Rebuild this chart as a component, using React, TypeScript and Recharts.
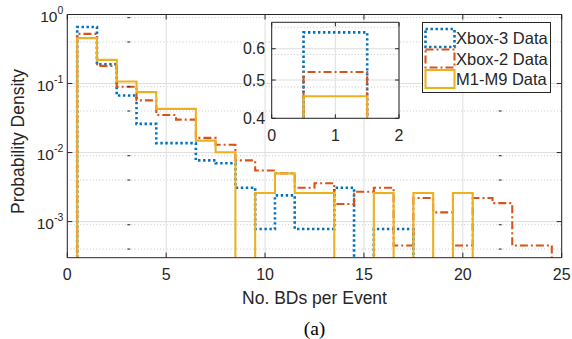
import React from 'react';
import { LineChart, Line, XAxis, YAxis, CartesianGrid } from 'recharts';

// ---- data (bins of width 1 centred on 1..24) ----
const binCenters = [1, 2, 3, 4, 5, 6, 7, 8, 9, 10, 11, 12, 13, 14, 15, 16, 17, 18, 19, 20, 21, 22, 23, 24];
const xbox3 = [0.66, 0.19, 0.067, 0.026, 0.0137, 0.0137, 0.0077, 0.007, 0.0031, 0.00078, 0.0024, 0.00078, 0.00078, 0.0031, 0, 0.00078, 0.00078, 0, 0, 0, 0, 0, 0, 0];
const xbox2 = [0.524, 0.18, 0.09, 0.057, 0.035, 0.03, 0.0163, 0.013, 0.0077, 0.0055, 0.005, 0.0031, 0.0036, 0.0018, 0.0027, 0.0031, 0.00045, 0.0022, 0.00136, 0.00045, 0.0022, 0.00185, 0.00045, 0.00045];
const m1m9 = [0.455, 0.22, 0.107, 0.075, 0.043, 0.043, 0.0149, 0.0101, 0, 0.0026, 0.005, 0.0026, 0.0026, 0, 0, 0.0026, 0, 0.0026, 0, 0.0026, 0, 0, 0, 0];

const seriesNames = ['Xbox-3 Data', 'Xbox-2 Data', 'M1-M9 Data'];
const seriesColors = ['#0072BD', '#D95319', '#EDB120'];
const seriesDash = ['2.4 2.6', '8 3 2 3', undefined];

const xTicks = [0, 5, 10, 15, 20, 25];
const yTicks = [0.001, 0.01, 0.1, 1];
const yTickExps = ['-3', '-2', '-1', '0'];
const insetXTicks = [0, 1, 2];
const insetYTicks = [0.4, 0.5, 0.6];
const insetYLabels = ['0.4', '0.5', '0.6'];

const xLabel = 'No. BDs per Event';
const yLabel = 'Probability Density';
const caption = '(a)';

// ---- derived ----
const FLOOR = 1e-7;
const fl = (v: number) => (v > 0 ? v : FLOOR);
const mainData = [
  { x: 0, a: FLOOR, b: FLOOR, c: FLOOR },
  ...binCenters.map((c, i) => ({ x: c - 0.5, a: fl(xbox3[i]), b: fl(xbox2[i]), c: fl(m1m9[i]) })),
  { x: 24.5, a: FLOOR, b: FLOOR, c: FLOOR },
  { x: 25, a: FLOOR, b: FLOOR, c: FLOOR },
];
const INSET_FLOOR = 0.1;
const insetData = [
  { x: 0, a: INSET_FLOOR, b: INSET_FLOOR, c: INSET_FLOOR },
  { x: binCenters[0] - 0.5, a: xbox3[0], b: xbox2[0], c: m1m9[0] },
  { x: binCenters[0] + 0.5, a: INSET_FLOOR, b: INSET_FLOOR, c: INSET_FLOOR },
  { x: 2, a: INSET_FLOOR, b: INSET_FLOOR, c: INSET_FLOOR },
];
const keys = ['a', 'b', 'c'];

const Y_MIN = 3e-4;
const minorY: number[] = [];
for (let e = -4; e <= -1; e++) {
  for (let k = 2; k <= 9; k++) {
    const v = k * Math.pow(10, e);
    if (v > Y_MIN && v < 1) minorY.push(v);
  }
}
const insetMinorY = [0.42, 0.44, 0.46, 0.48, 0.52, 0.54, 0.56, 0.58, 0.62, 0.64, 0.66, 0.68];

const FONT = '"Liberation Sans", Arial, Helvetica, sans-serif';
const AX = '#262626';
const TICK_FS = 16;

const EmptyTick = () => <g />;

function LogTick(props: any) {
  const { x, y, payload } = props;
  const i = yTicks.indexOf(payload.value);
  return (
    <text x={x} y={y + 7} textAnchor="end" fontSize={15.5} fill={AX} fontFamily={FONT}>
      <tspan>10</tspan>
      <tspan dy={-8} fontSize={10.5}>{yTickExps[i]}</tspan>
    </text>
  );
}

function InsetYTick(props: any) {
  const { x, y, payload } = props;
  const i = insetYTicks.indexOf(payload.value);
  return (
    <text x={x} y={y + 5.5} textAnchor="end" fontSize={TICK_FS} fill={AX} fontFamily={FONT}>
      {insetYLabels[i]}
    </text>
  );
}

const tickStyle = { fontSize: TICK_FS, fill: AX, fontFamily: FONT };

function renderLines() {
  return keys.map((k, i) => (
    <Line
      key={k}
      xAxisId="main"
      yAxisId="main"
      dataKey={k}
      type="stepAfter"
      stroke={seriesColors[i]}
      strokeWidth={i === 0 ? 2.6 : 2.1}
      strokeDasharray={seriesDash[i]}
      dot={false}
      activeDot={false}
      isAnimationActive={false}
    />
  ));
}

export default function App() {
  return (
    <div style={{ position: 'relative', width: 572, height: 339, background: '#fff' }}>
      <style>{`body{margin:0;background:#fff}`}</style>
      {/* main chart */}
      <div style={{ position: 'absolute', left: 0, top: 0 }}>
        <LineChart width={572} height={339} data={mainData} margin={{ top: 14.5, right: 10.3, left: 10, bottom: 51.3 }}>
          <CartesianGrid xAxisId="main" yAxisId="main" horizontalValues={minorY} vertical={false} stroke="#c4c4c4" strokeDasharray="1 2.2" />
          <CartesianGrid xAxisId="main" yAxisId="main" horizontalValues={yTicks} verticalValues={xTicks} stroke="#dedede" />
          <XAxis xAxisId="main" dataKey="x" type="number" domain={[0, 25]} allowDataOverflow ticks={xTicks} tickLine={false} tickSize={0} tickMargin={11} axisLine={{ stroke: AX }} tick={tickStyle} height={30} />
          <XAxis xAxisId="bt" dataKey="x" type="number" domain={[0, 25]} allowDataOverflow ticks={xTicks} mirror tickSize={5} tickLine={{ stroke: AX }} axisLine={false} tick={EmptyTick} />
          <XAxis xAxisId="top" orientation="top" dataKey="x" type="number" domain={[0, 25]} allowDataOverflow ticks={xTicks} mirror tickSize={5} tickLine={{ stroke: AX }} axisLine={{ stroke: AX }} tick={EmptyTick} />
          <YAxis yAxisId="main" scale="log" type="number" domain={[Y_MIN, 1]} allowDataOverflow ticks={yTicks} tickLine={false} tickSize={0} tickMargin={4} axisLine={{ stroke: AX }} tick={LogTick} width={57.3} />
          <YAxis yAxisId="lmaj" scale="log" type="number" domain={[Y_MIN, 1]} allowDataOverflow ticks={yTicks} mirror tickSize={5} tickLine={{ stroke: AX }} axisLine={false} tick={EmptyTick} />
          <YAxis yAxisId="lmin" scale="log" type="number" domain={[Y_MIN, 1]} allowDataOverflow ticks={minorY} mirror tickSize={3} tickLine={{ stroke: AX }} axisLine={false} tick={EmptyTick} />
          <YAxis yAxisId="rmaj" orientation="right" scale="log" type="number" domain={[Y_MIN, 1]} allowDataOverflow ticks={yTicks} mirror tickSize={5} tickLine={{ stroke: AX }} axisLine={{ stroke: AX }} tick={EmptyTick} />
          <YAxis yAxisId="rmin" orientation="right" scale="log" type="number" domain={[Y_MIN, 1]} allowDataOverflow ticks={minorY} mirror tickSize={3} tickLine={{ stroke: AX }} axisLine={false} tick={EmptyTick} />
          {renderLines()}
        </LineChart>
      </div>

      {/* inset */}
      <div style={{ position: 'absolute', left: 230, top: 15 }}>
        <LineChart width={175} height={135} data={insetData} margin={{ top: 7.3, right: 6, left: 0, bottom: 0 }}>
          <CartesianGrid xAxisId="main" yAxisId="main" fill="#fff" horizontalValues={insetMinorY} vertical={false} stroke="#c4c4c4" strokeDasharray="1 2.2" />
          <CartesianGrid xAxisId="main" yAxisId="main" horizontalValues={insetYTicks} verticalValues={insetXTicks} stroke="#dedede" />
          <XAxis xAxisId="main" dataKey="x" type="number" domain={[0, 2]} allowDataOverflow ticks={insetXTicks} tickLine={false} tickSize={0} tickMargin={11} axisLine={{ stroke: AX }} tick={tickStyle} height={31.7} />
          <XAxis xAxisId="bt" dataKey="x" type="number" domain={[0, 2]} allowDataOverflow ticks={insetXTicks} mirror tickSize={4} tickLine={{ stroke: AX }} axisLine={false} tick={EmptyTick} />
          <XAxis xAxisId="top" orientation="top" dataKey="x" type="number" domain={[0, 2]} allowDataOverflow ticks={insetXTicks} mirror tickSize={4} tickLine={{ stroke: AX }} axisLine={{ stroke: AX }} tick={EmptyTick} />
          <YAxis yAxisId="main" scale="log" type="number" domain={[0.4, 0.7]} allowDataOverflow ticks={insetYTicks} tickLine={false} tickSize={0} tickMargin={6.5} axisLine={{ stroke: AX }} tick={InsetYTick} width={41.7} />
          <YAxis yAxisId="lmaj" scale="log" type="number" domain={[0.4, 0.7]} allowDataOverflow ticks={insetYTicks} mirror tickSize={4} tickLine={{ stroke: AX }} axisLine={false} tick={EmptyTick} />
          <YAxis yAxisId="rmaj" orientation="right" scale="log" type="number" domain={[0.4, 0.7]} allowDataOverflow ticks={insetYTicks} mirror tickSize={4} tickLine={{ stroke: AX }} axisLine={{ stroke: AX }} tick={EmptyTick} />
          {renderLines()}
        </LineChart>
      </div>

      {/* labels and legend */}
      <svg width={572} height={339} style={{ position: 'absolute', left: 0, top: 0, pointerEvents: 'none' }}>
        <text x={314.5} y={304} textAnchor="middle" fontSize={17.5} fill={AX} fontFamily={FONT}>{xLabel}</text>
        <text transform="translate(24,141.5) rotate(-90)" x={0} y={0} textAnchor="middle" fontSize={17.5} fill={AX} fontFamily={FONT}>{yLabel}</text>
        <text x={314.5} y={335} textAnchor="middle" fontSize={19.5} fill="#000" fontFamily={'"Liberation Serif", "Times New Roman", serif'}>{caption}</text>
        <rect x={422.5} y={22.5} width={128} height={70} fill="#fff" stroke={AX} strokeWidth={1} />
        {seriesNames.map((n, i) => (
          <g key={n}>
            <rect x={425.5} y={29 + i * 20.5} width={29} height={18} fill="none" stroke={seriesColors[i]} strokeWidth={i === 0 ? 2.6 : 2.1} strokeDasharray={seriesDash[i]} />
            <text x={456} y={44 + i * 20.5} fontSize={16.5} fill={AX} fontFamily={FONT}>{n}</text>
          </g>
        ))}
      </svg>
    </div>
  );
}
